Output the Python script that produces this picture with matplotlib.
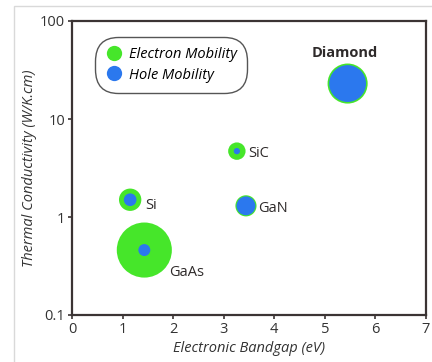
import matplotlib.pyplot as plt
from matplotlib.lines import Line2D
from matplotlib.patches import Rectangle

# data
materials = ['Si', 'GaAs', 'SiC', 'GaN', 'Diamond']
bandgap = [1.15, 1.43, 3.26, 3.44, 5.45]          # eV
conductivity = [1.5, 0.46, 4.7, 1.3, 23]          # W/K.cm
electron_mobility = [1400, 8500, 850, 1250, 4500]  # marker area
hole_mobility = [450, 400, 110, 1000, 3800]
x_ticks = [0, 1, 2, 3, 4, 5, 6, 7]
y_ticks = [0.1, 1, 10, 100]
y_tick_labels = ['0.1', '1', '10', '100']

GREEN = '#46e62a'
BLUE = '#2b78ee'
DARK = '#3b3434'
SIZE_SCALE = 0.185  # points^2 per mobility unit

plt.rcParams['font.family'] = ['Open Sans', 'DejaVu Sans']

fig = plt.figure(figsize=(4.32, 3.62), dpi=100)
fig.patches.append(Rectangle((14 / 432, -0.05), 1.0, 1 - 6 / 362 + 0.05,
                             transform=fig.transFigure, fill=False,
                             edgecolor='#d9d9d9', linewidth=1.0))

ax = fig.add_axes([72 / 432, 1 - 315 / 362, 354 / 432, 294 / 362])
ax.set_yscale('log')
ax.set_xlim(0, 7)
ax.set_ylim(0.1, 100)

ax.scatter(bandgap, conductivity, s=[m * SIZE_SCALE for m in electron_mobility],
           color=GREEN, edgecolors='none', zorder=2)
ax.scatter(bandgap, conductivity, s=[m * SIZE_SCALE for m in hole_mobility],
           color=BLUE, edgecolors='none', zorder=3)

# material labels
offsets = {
    'Si': ((11, -4), 'left', 'center'),
    'GaAs': ((18, -16), 'left', 'center'),
    'SiC': ((8, -2), 'left', 'center'),
    'GaN': ((9, -2), 'left', 'center'),
    'Diamond': ((-2, 22), 'center', 'center'),
}
for name, x, y in zip(materials, bandgap, conductivity):
    off, ha, va = offsets[name]
    ax.annotate(name, (x, y), xytext=off, textcoords='offset points',
                ha=ha, va=va, fontsize=10.5, color='#2e2a2a',
                fontweight='bold' if name == 'Diamond' else 'normal')

ax.set_xticks(x_ticks)
ax.set_yticks(y_ticks)
ax.set_yticklabels(y_tick_labels)
ax.minorticks_off()
ax.tick_params(direction='out', length=3, width=1.2, color=DARK,
               labelsize=10.5, labelcolor='#333333', pad=2)
for s in ax.spines.values():
    s.set_color(DARK)
    s.set_linewidth(1.6)

ax.set_xlabel('Electronic Bandgap (eV)', fontsize=10.5, style='italic',
              color='#333333', labelpad=3)
ax.set_ylabel('Thermal Conductivity (W/K.cm)', fontsize=10.5, style='italic',
              color='#333333', labelpad=2)

handles = [
    Line2D([], [], marker='o', linestyle='none', markersize=11,
           markerfacecolor=GREEN, markeredgecolor='none', label='Electron Mobility'),
    Line2D([], [], marker='o', linestyle='none', markersize=11,
           markerfacecolor=BLUE, markeredgecolor='none', label='Hole Mobility'),
]
leg = ax.legend(handles=handles, loc='upper left', bbox_to_anchor=(0.072, 0.935),
                prop={'style': 'italic', 'size': 10.5}, frameon=True,
                handletextpad=0.45, handlelength=1.2, borderpad=0.5,
                labelspacing=0.35, borderaxespad=0)
frame = leg.get_frame()
frame.set_boxstyle('round,pad=0.2,rounding_size=1.6')
frame.set_edgecolor('#555555')
frame.set_linewidth(1.0)
frame.set_alpha(1)

fig.savefig('out.png', dpi=100)
